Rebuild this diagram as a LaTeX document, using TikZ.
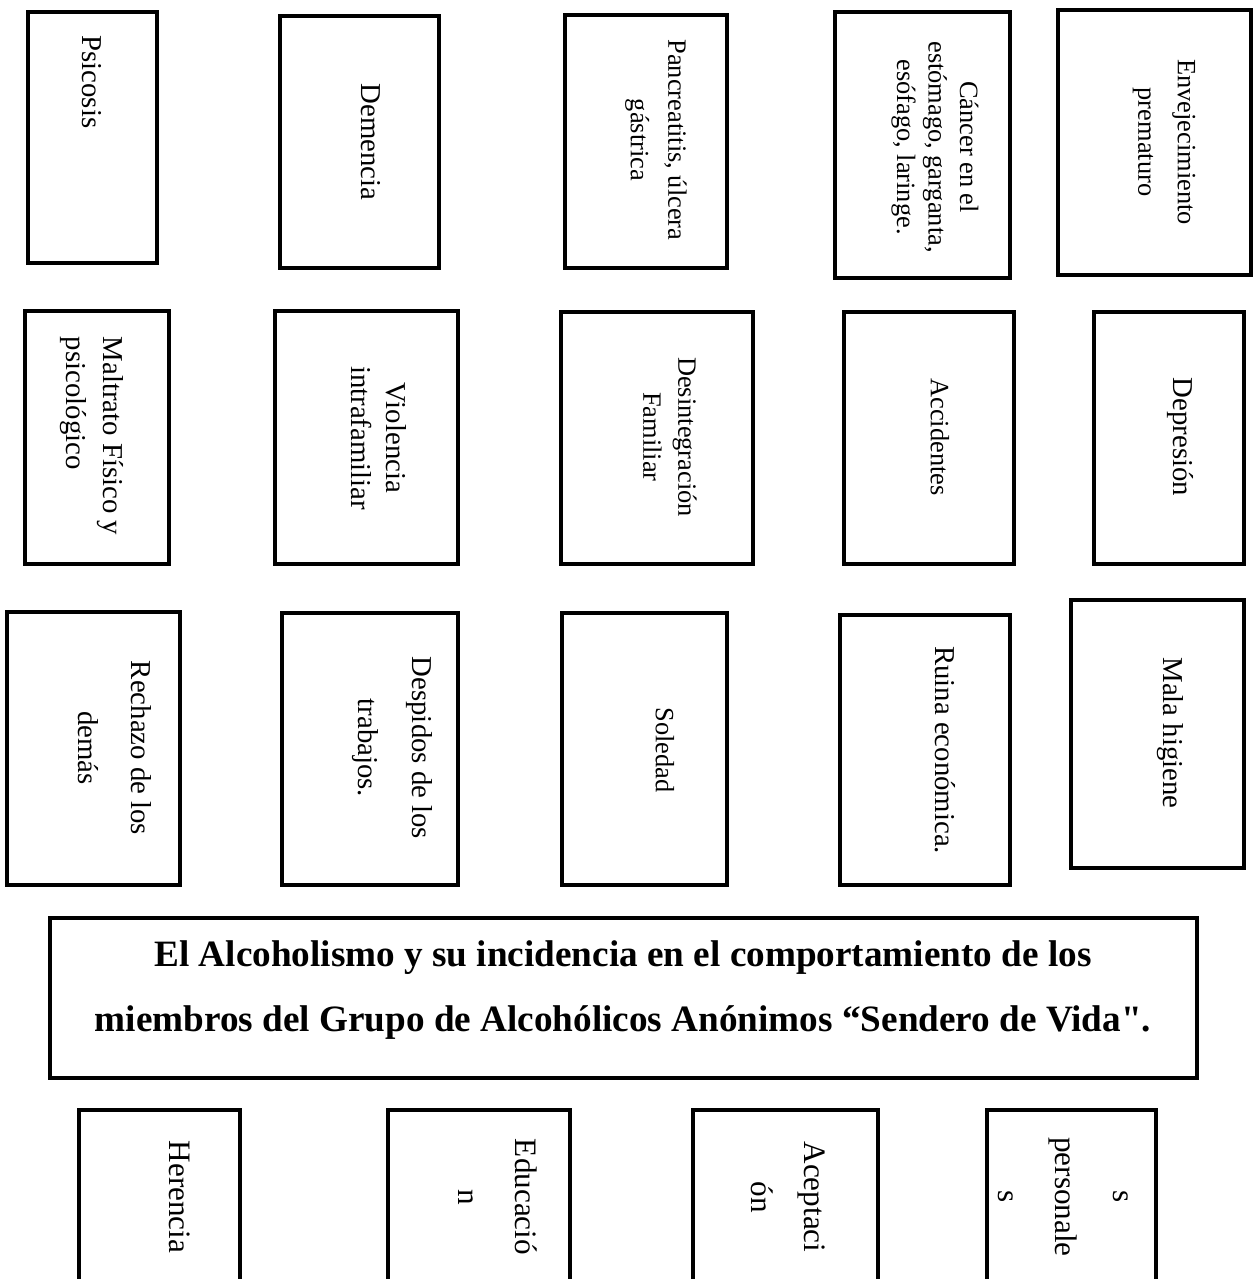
\documentclass[tikz,border=0pt]{standalone}
\usepackage{fontspec}
\setmainfont{Liberation Serif}
\newfontfamily\plainquote{Liberation Serif}[Ligatures=TeXOff]
\usetikzlibrary{positioning, fit}

\begin{document}
\begin{tikzpicture}[
    x=0.4167pt, y=-0.4167pt,
    card/.style={rectangle, draw, line width=2pt, inner sep=0pt},
    vtext/.style={rotate=-90, align=center, inner sep=0pt},
    heading/.style={align=center, inner sep=0pt, font=\bfseries\fontsize{15.5}{27}\selectfont}
]
    \useasboundingbox (0,0) rectangle (1259,1279);
    \clip (0,0) rectangle (1259,1279);

    % Row 1
    \node [card, fit={(28,12) (157,263)}] (psicosis) {};
    \node [card, fit={(280,16) (439,268)}] (demencia) {};
    \node [card, fit={(565,15) (727,268)}] (pancreatitis) {};
    \node [card, fit={(835,12) (1010,278)}] (cancer) {};
    \node [card, fit={(1058,10) (1251,275)}] (envejecimiento) {};

    \node [vtext, font=\fontsize{12}{14}\selectfont] (psicosisText) at (92,82) {Psicosis};
    \node [vtext, font=\fontsize{12}{14}\selectfont] (demenciaText) at (371,142) {Demencia};
    \node [vtext, font=\fontsize{11}{15.6}\selectfont] (pancreatitisText) at (656,140) {Pancreatitis, úlcera\\gástrica};
    \node [vtext, font=\fontsize{11}{13.1}\selectfont] (cancerText) at (935,147) {Cáncer en el\\estómago, garganta,\\esófago, laringe.};
    \node [vtext, font=\fontsize{11}{16.5}\selectfont] (envejecimientoText) at (1164,142) {Envejecimiento\\prematuro};

    % Row 2
    \node [card, fit={(25,311) (169,564)}] (maltrato) {};
    \node [card, fit={(275,311) (458,564)}] (violencia) {};
    \node [card, fit={(561,312) (753,564)}] (desintegracion) {};
    \node [card, fit={(844,312) (1014,564)}] (accidentes) {};
    \node [card, fit={(1094,312) (1244,564)}] (depresion) {};

    \node [vtext, align=left, font=\fontsize{12}{15.6}\selectfont] (maltratoText) at (92,436) {Maltrato Físico y\\psicológico};
    \node [vtext, font=\fontsize{12}{14.4}\selectfont] (violenciaText) at (379,438) {Violencia\\intrafamiliar};
    \node [vtext, font=\fontsize{11}{14.6}\selectfont] (desintegracionText) at (670,437) {Desintegración\\Familiar};
    \node [vtext, font=\fontsize{11}{14}\selectfont] (accidentesText) at (940,437) {Accidentes};
    \node [vtext, font=\fontsize{12}{14}\selectfont] (depresionText) at (1180,437) {Depresión};

    % Row 3
    \node [card, fit={(7,612) (180,885)}] (rechazo) {};
    \node [card, fit={(282,613) (458,885)}] (despidos) {};
    \node [card, fit={(562,613) (727,885)}] (soledad) {};
    \node [card, fit={(840,615) (1010,885)}] (ruina) {};
    \node [card, fit={(1071,600) (1244,868)}] (higiene) {};

    \node [vtext, font=\fontsize{12}{22}\selectfont] (rechazoText) at (115,748) {Rechazo de los\\demás};
    \node [vtext, font=\fontsize{12}{22.5}\selectfont] (despidosText) at (392,748) {Despidos de los\\trabajos.};
    \node [vtext, font=\fontsize{11}{14}\selectfont] (soledadText) at (665,750) {Soledad};
    \node [vtext, font=\fontsize{12}{14}\selectfont] (ruinaText) at (945,750) {Ruina económica.};
    \node [vtext, font=\fontsize{12}{14}\selectfont] (higieneText) at (1170,733) {Mala higiene};

    % Problem
    \node [card, fit={(50,918) (1197,1078)}] (problema) {};
    \node [heading] (problemaText) at (623,990) {El Alcoholismo y su incidencia en el comportamiento de los\\miembros del Grupo de Alcohólicos Anónimos “Sendero de Vida{\plainquote\bfseries"}.};

    % Causes
    \node [card, fit={(79,1110) (240,1300)}] (herencia) {};
    \node [card, fit={(388,1110) (570,1300)}] (educacion) {};
    \node [card, fit={(693,1110) (878,1300)}] (aceptacion) {};
    \node [card, fit={(987,1110) (1156,1300)}] (personales) {};

    \node [vtext, font=\fontsize{13}{15}\selectfont] (herenciaText) at (180,1197) {Herencia};
    \node [vtext, font=\fontsize{13}{24}\selectfont] (educacionText) at (498,1197) {Educació\\n};
    \node [vtext, font=\fontsize{13}{22}\selectfont] (aceptacionText) at (788,1197) {Aceptaci\\ón};
    \node [vtext, font=\fontsize{13}{24}\selectfont] (personalesText) at (1063,1197) {s\\personale\\s};
\end{tikzpicture}
\end{document}
